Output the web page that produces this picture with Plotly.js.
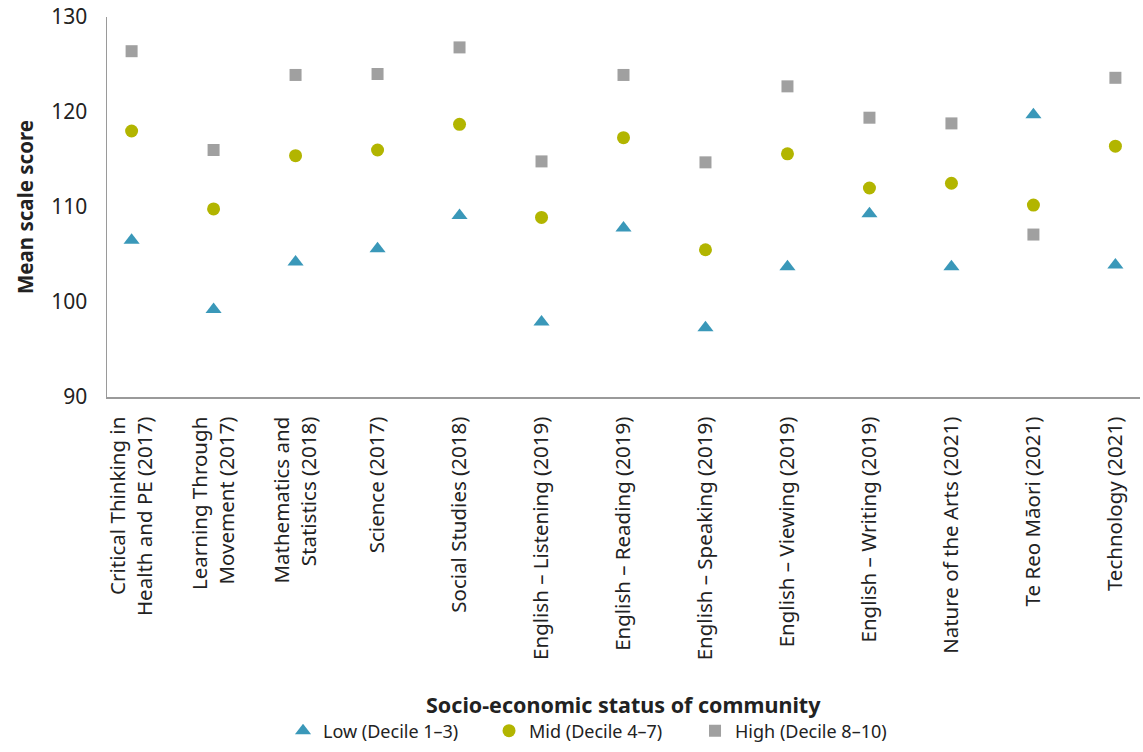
<!DOCTYPE html>
<html>
<head>
<meta charset="utf-8">
<script src="https://cdn.plot.ly/plotly-3.0.1.min.js"></script>
<style>html,body{margin:0;padding:0;background:#fff}#chart{width:1143px;height:752px}</style>
</head>
<body>
<div id="chart"></div>
<script>
const categories = [
  "Critical Thinking in<br>Health and PE (2017)",
  "Learning Through<br>Movement (2017)",
  "Mathematics and<br>Statistics (2018)",
  "Science (2017)",
  "Social Studies (2018)",
  "English – Listening (2019)",
  "English – Reading (2019)",
  "English – Speaking (2019)",
  "English – Viewing (2019)",
  "English – Writing (2019)",
  "Nature of the Arts (2021)",
  "Te Reo Māori (2021)",
  "Technology (2021)"
];
const lowValues  = [106.5, 99.2, 104.2, 105.6, 109.1, 97.9, 107.8, 97.3, 103.7, 109.3, 103.7, 119.7, 103.9];
const midValues  = [118.0, 109.8, 115.4, 116.0, 118.7, 108.9, 117.3, 105.5, 115.6, 112.0, 112.5, 110.2, 116.4];
const highValues = [126.4, 116.0, 123.9, 124.0, 126.8, 114.8, 123.9, 114.7, 122.7, 119.4, 118.8, 107.1, 123.6];
const seriesNames = ["Low (Decile 1–3)", "Mid (Decile 4–7)", "High (Decile 8–10)"];
const yTicks = [90, 100, 110, 120, 130];

const idx = categories.map((_, i) => i);
const font = "'Noto Sans', 'Open Sans', sans-serif";

const traces = [
  {x: idx, y: lowValues, name: seriesNames[0], type: "scatter", mode: "markers",
   marker: {symbol: "triangle-up", size: 14, color: "#3a98b9"}},
  {x: idx, y: midValues, name: seriesNames[1], type: "scatter", mode: "markers",
   marker: {symbol: "circle", size: 13, color: "#b2b500"}},
  {x: idx, y: highValues, name: seriesNames[2], type: "scatter", mode: "markers",
   marker: {symbol: "square", size: 12, color: "#a0a0a0"}}
];

const layout = {
  width: 1143, height: 752,
  margin: {l: 107, r: 3, t: 17, b: 355},
  paper_bgcolor: "#fff", plot_bgcolor: "#fff",
  font: {family: font, size: 17, color: "#222"},
  showlegend: true,
  legend: {orientation: "h", x: 0.1704, xanchor: "left", y: -0.879, yanchor: "middle",
           font: {size: 18, color: "#222"}, itemwidth: 30, tracegroupgap: 0,
           entrywidth: 161, entrywidthmode: "pixels"},
  xaxis: {
    range: [-0.3, 12.3], tickmode: "array", tickvals: idx, ticktext: categories,
    tickangle: -90, showgrid: false, zeroline: false,
    showline: true, linecolor: "#9a9a9a", linewidth: 1.5,
    ticks: "outside", ticklen: 10, tickcolor: "rgba(0,0,0,0)",
    tickfont: {size: 20.5, color: "#222"}, automargin: false, fixedrange: true
  },
  yaxis: {
    range: [90, 130], tickmode: "array", tickvals: yTicks,
    showgrid: false, zeroline: false,
    showline: true, linecolor: "#9a9a9a", linewidth: 1.5,
    ticks: "outside", ticklen: 14, tickcolor: "rgba(0,0,0,0)",
    tickfont: {size: 21, color: "#222"}, automargin: false,
    title: {text: "<b>Mean scale score</b>", font: {size: 20.5, color: "#222"}, standoff: 12}
  },
  annotations: [
    {text: "<b>Socio-economic status of community</b>", xref: "paper", yref: "paper",
     x: 0.5, y: -0.8105, xanchor: "center", yanchor: "middle", showarrow: false,
     font: {size: 21.5, color: "#222"}}
  ]
};

Plotly.newPlot("chart", traces, layout, {displayModeBar: false, staticPlot: true});
</script>
</body>
</html>
